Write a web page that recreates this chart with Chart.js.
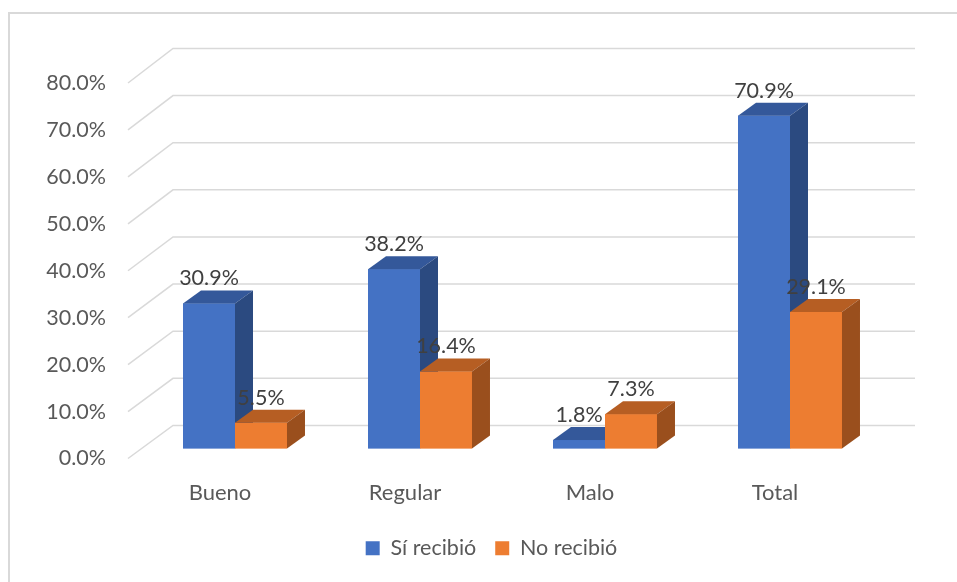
<!DOCTYPE html>
<html>
<head>
<meta charset="utf-8">
<script src="https://cdn.jsdelivr.net/npm/chart.js@4.4.0/dist/chart.umd.min.js"></script>
<style>
  html, body { margin: 0; padding: 0; background: #fff; }
  #wrap { width: 957px; height: 582px; }
</style>
</head>
<body>
<div id="wrap"><canvas id="chart"></canvas></div>
<script>
// Chart values
const categories = ['Bueno', 'Regular', 'Malo', 'Total'];
const seriesNames = ['Sí recibió', 'No recibió'];
const siRecibio = [30.9, 38.2, 1.8, 70.9];
const noRecibio = [5.5, 16.4, 7.3, 29.1];

// Face colours for the fake 3D look (front, top, side)
const shades = [
  { front: '#4472C4', top: '#34589A', side: '#2B4A80' },
  { front: '#ED7D31', top: '#B65E23', side: '#9A4F1D' },
];
const depth = { dx: 18, dy: 13 };
const FONT = 'Lato';

const fmt = v => v.toFixed(1) + '%';

const bar3d = {
  id: 'bar3d',
  beforeDraw(chart) {
    const { ctx, width, height } = chart;
    ctx.save();
    ctx.fillStyle = '#fff';
    ctx.fillRect(0, 0, width, height);
    // outer chart frame (only left and top edges are in view)
    ctx.strokeStyle = '#d9d9d9';
    ctx.lineWidth = 2;
    ctx.beginPath();
    ctx.moveTo(9, height);
    ctx.lineTo(9, 13);
    ctx.lineTo(width, 13);
    ctx.stroke();
    ctx.restore();
  },
  beforeDatasetsDraw(chart) {
    // back wall and side wall gridlines
    const { ctx, chartArea } = chart;
    const y = chart.scales.y;
    const y0 = y.getPixelForValue(0);
    ctx.save();
    ctx.strokeStyle = '#d9d9d9';
    ctx.lineWidth = 1.5;
    y.ticks.forEach(t => {
      const py = y.getPixelForValue(t.value);
      const front = py + 10;
      const back = py - 23 - (y0 - py) * 0.004;
      ctx.beginPath();
      ctx.moveTo(chartArea.left - 14.5, front);
      ctx.lineTo(chartArea.left + 30.5, back);
      ctx.lineTo(chartArea.right + 32.5, back);
      ctx.stroke();
    });
    ctx.restore();
  },
  afterDatasetsDraw(chart) {
    const { ctx } = chart;
    ctx.save();
    // redraw every bar as a box, series in order so later fronts cover earlier sides
    chart.data.datasets.forEach((ds, i) => {
      const c = shades[i];
      chart.getDatasetMeta(i).data.forEach(bar => {
        const { x, y, base, width } = bar.getProps(['x', 'y', 'base', 'width'], true);
        const l = x - width / 2, r = x + width / 2;
        ctx.fillStyle = c.front;
        ctx.fillRect(l, y, width, base - y);
        ctx.fillStyle = c.top;
        ctx.beginPath();
        ctx.moveTo(l, y);
        ctx.lineTo(r, y);
        ctx.lineTo(r + depth.dx, y - depth.dy);
        ctx.lineTo(l + depth.dx, y - depth.dy);
        ctx.closePath();
        ctx.fill();
        ctx.fillStyle = c.side;
        ctx.beginPath();
        ctx.moveTo(r, y);
        ctx.lineTo(r + depth.dx, y - depth.dy);
        ctx.lineTo(r + depth.dx, base - depth.dy);
        ctx.lineTo(r, base);
        ctx.closePath();
        ctx.fill();
      });
    });
    // value labels above each bar
    ctx.font = '21.5px ' + FONT;
    ctx.fillStyle = '#404040';
    ctx.textAlign = 'center';
    ctx.textBaseline = 'middle';
    chart.data.datasets.forEach((ds, i) => {
      chart.getDatasetMeta(i).data.forEach((bar, j) => {
        const { x, y } = bar.getProps(['x', 'y'], true);
        ctx.fillText(fmt(ds.data[j]), x, y - 25);
      });
    });
    ctx.restore();
  }
};

new Chart(document.getElementById('chart'), {
  type: 'bar',
  data: {
    labels: categories,
    datasets: [
      { label: seriesNames[0], data: siRecibio, backgroundColor: shades[0].front, borderWidth: 0 },
      { label: seriesNames[1], data: noRecibio, backgroundColor: shades[1].front, borderWidth: 0 },
    ],
  },
  options: {
    responsive: true,
    maintainAspectRatio: false,
    animation: false,
    devicePixelRatio: 1,
    layout: { padding: { left: 26, right: 0, top: 73, bottom: 13 } },
    datasets: { bar: { barPercentage: 1, categoryPercentage: 0.562 } },
    plugins: {
      tooltip: { enabled: false },
      legend: {
        position: 'bottom',
        labels: {
          boxWidth: 14,
          boxHeight: 14,
          padding: 19,
          color: '#595959',
          font: { family: FONT, size: 21.5 },
        },
      },
    },
    scales: {
      x: {
        grid: { display: false, drawTicks: false },
        border: { display: false },
        ticks: { color: '#595959', font: { family: FONT, size: 22 }, padding: 31, labelOffset: -15 },
        afterFit(scale) { scale.height = 70; },
      },
      y: {
        min: 0,
        max: 80,
        grid: { display: false, drawTicks: false },
        border: { display: false },
        ticks: {
          stepSize: 10,
          color: '#595959',
          font: { family: FONT, size: 21.5 },
          padding: 36.5,
          labelOffset: 10,
          callback: v => fmt(v),
        },
        afterFit(scale) { scale.width = 116.5; },
      },
      // empty right-hand axis, only reserves the space beside the back wall
      spacer: {
        type: 'linear',
        position: 'right',
        grid: { display: false, drawTicks: false },
        border: { display: false },
        ticks: { display: false },
        afterFit(scale) { scale.width = 74.5; },
      },
    },
  },
  plugins: [bar3d],
});
</script>
</body>
</html>
